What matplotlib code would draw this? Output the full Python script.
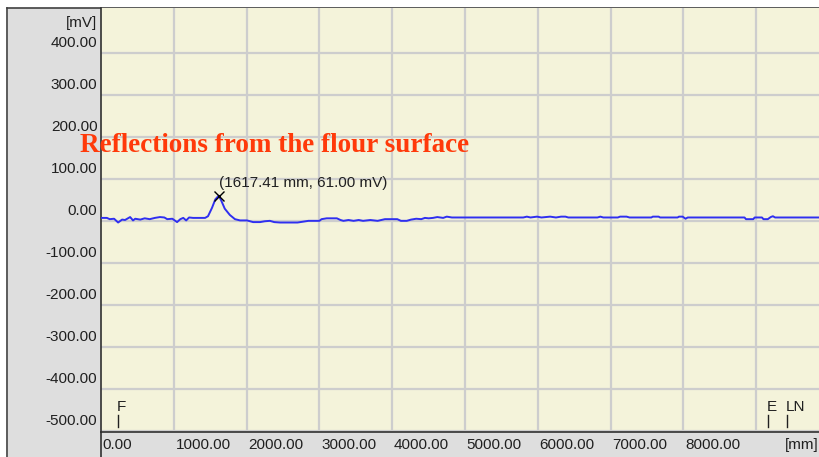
import matplotlib.pyplot as plt
from matplotlib.patches import Rectangle
from matplotlib.lines import Line2D

# signal (distance in mm, amplitude in mV)
dist_mm = [0, 80, 120, 180, 235, 290, 330, 400, 440, 470, 540, 600, 670, 740, 810,
           870, 910, 980, 1045, 1090, 1130, 1170, 1210, 1265, 1430, 1470, 1525, 1570,
           1617, 1650, 1700, 1770, 1840, 1910, 2005, 2090, 2185, 2250, 2320, 2380,
           2460, 2700, 2850, 3000, 3030, 3100, 3240, 3290, 3330, 3400, 3470, 3540,
           3600, 3700, 3800, 3900, 4070, 4120, 4200, 4260, 4330, 4400, 4450, 4500,
           4560, 4620, 4700, 4750, 4820, 5800, 5850, 5900, 5990, 6050, 6170, 6250,
           6320, 6380, 6420, 6820, 6860, 6900, 7100, 7130, 7220, 7260, 7560, 7580,
           7660, 7680, 7920, 7940, 7990, 8030, 8060, 8840, 8860, 8960, 8980, 9080,
           9100, 9160, 9200, 9230, 9260, 9877]
signal_mv = [8, 8, 5, 6, -3, 4, 3, 10, 2, 6, 4, 7, 5, 8, 10,
             9, 5, 6, -2, 5, 8, 2, 9, 8, 8, 12, 32, 52,
             61, 50, 30, 15, 5, 2, 2, -2, -2, 0, 1, -2,
             -3, -3, 1, 1, 5, 7, 7, 3, 1, 3, 1, 3,
             1, 3, 1, 5, 5, 1, 1, 4, 6, 5, 8, 7,
             8, 10, 8, 11, 9, 9, 11, 9, 11, 9, 11, 9,
             11, 11, 9, 9, 11, 9, 9, 11, 11, 9, 9, 11,
             11, 9, 9, 11, 11, 6, 9, 9, 5, 5, 9, 9,
             5, 5, 10, 12, 9, 9]

peak_mm = 1617.41
peak_mv = 61.00

x_ticks = [0, 1000, 2000, 3000, 4000, 5000, 6000, 7000, 8000]
x_grid = [1000, 2000, 3000, 4000, 5000, 6000, 7000, 8000, 9000]
y_ticks = [400, 300, 200, 100, 0, -100, -200, -300, -400, -500]

# event markers along the bottom: first, end, LN
markers = [("F", 233), ("E", 9162), ("LN", 9423)]

W, H = 820, 457
fig = plt.figure(figsize=(W / 100, H / 100), dpi=100)
fig.patch.set_facecolor("white")

panel = "#DEDEDE"
# grey frame panels (left scale + bottom scale), kept behind the axes
fig.patches.append(Rectangle((8 / W, 0), 93 / W, 449 / H, transform=fig.transFigure,
                             facecolor=panel, edgecolor="none", zorder=-5))
fig.patches.append(Rectangle((8 / W, 0), 812 / W, 25 / H, transform=fig.transFigure,
                             facecolor=panel, edgecolor="none", zorder=-5))
# outer border
fig.lines.append(Line2D([7.5 / W, 7.5 / W], [0, 449.5 / H], transform=fig.transFigure,
                        color="#404040", lw=1.2, zorder=-4))
fig.lines.append(Line2D([7.5 / W, 1], [449.5 / H, 449.5 / H], transform=fig.transFigure,
                        color="#404040", lw=1.2, zorder=-4))
# left axis line continues into the bottom panel
fig.lines.append(Line2D([101 / W, 101 / W], [0, 25 / H], transform=fig.transFigure,
                        color="#303030", lw=1.2, zorder=-4))

ax = fig.add_axes([101 / W, 25 / H, 719 / W, 424 / H])
ax.set_facecolor("#F4F3DA")
ax.set_xlim(0, 9877)
ax.set_ylim(-502, 508)

for g in x_grid:
    ax.axvline(g, color="#CDCDCD", lw=1.6, zorder=1)
for t in y_ticks:
    ax.axhline(t, color="#CDCDCD", lw=1.6, zorder=1)

ax.plot(dist_mm, signal_mv, color="#2F2FF0", lw=1.4, zorder=3)
ax.plot([peak_mm], [peak_mv], marker="x", color="black", ms=7, mew=1.0, zorder=4)
ax.text(peak_mm + 10, peak_mv + 13, f"({peak_mm:.2f} mm, {peak_mv:.2f} mV)",
        fontsize=11, family="Liberation Sans", color="#202020", ha="left", va="bottom")

ax.text(-290, 180, "Reflections from the flour surface", fontsize=19.5,
        family="Liberation Serif", fontweight="bold", color="#FF3A0A",
        ha="left", va="center", clip_on=False, zorder=5)

for name, pos in markers:
    ax.plot([pos, pos], [-490, -462], color="#202020", lw=1.0, zorder=4)
    ax.text(pos - 10, -443, name, fontsize=11, family="Liberation Sans",
            color="#202020", ha="left", va="center")

ax.set_xticks([])
ax.set_yticks([])
for s in ["top", "right"]:
    ax.spines[s].set_visible(False)
ax.spines["left"].set_color("#303030")
ax.spines["bottom"].set_color("#303030")
ax.spines["left"].set_linewidth(1.2)
ax.spines["bottom"].set_linewidth(1.2)

ytr = ax.get_yaxis_transform()
for t in y_ticks:
    ax.text(-0.005, t + 24, f"{t:.2f}", transform=ytr, fontsize=11,
            family="Liberation Sans", color="#202020", ha="right", va="center",
            clip_on=False)
ax.text(-0.005, 473, "[mV]", transform=ytr, fontsize=11, family="Liberation Sans",
        color="#202020", ha="right", va="center", clip_on=False)

xtr = ax.get_xaxis_transform()
for t in x_ticks:
    ax.text(t + 25, -0.03, f"{t:.2f}", transform=xtr, fontsize=11,
            family="Liberation Sans", color="#202020", ha="left", va="center",
            clip_on=False)
ax.text(9860, -0.03, "[mm]", transform=xtr, fontsize=11, family="Liberation Sans",
        color="#202020", ha="right", va="center", clip_on=False)

fig.savefig("out.png", dpi=100)
